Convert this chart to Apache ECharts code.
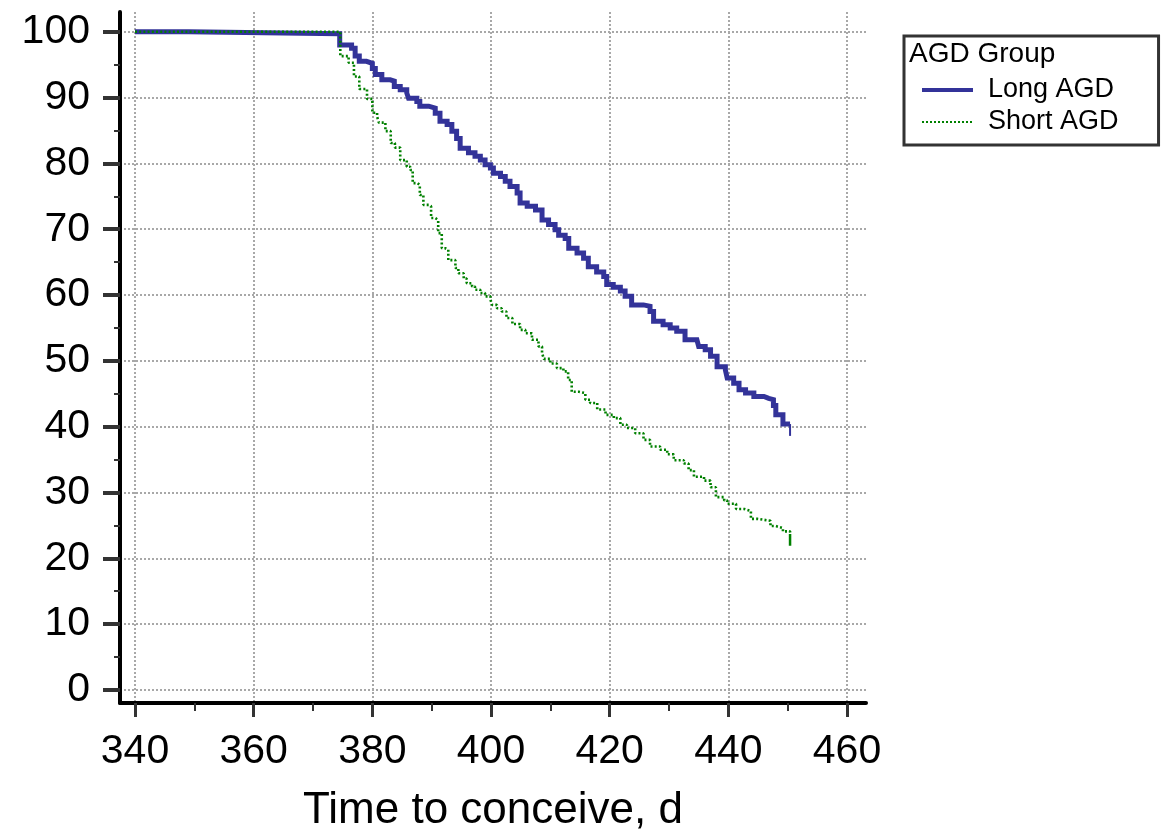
<!DOCTYPE html>
<html><head><meta charset="utf-8">
<script src="https://cdn.jsdelivr.net/npm/echarts@6/dist/echarts.min.js"></script>
<style>html,body{margin:0;padding:0;background:#fff}#c{width:1163px;height:840px}</style>
</head><body><div id="c"></div>
<script>
// ---- data ----
const longTime = [340,349,374.5,376.5,377.1,377.8,379,380,380.5,381.6,383,383.7,384.7,385.8,386.1,387.5,388,389.5,390.6,391.4,392.6,393.4,394.2,394.8,396.2,397.3,398.2,399,399.9,400.4,401.6,402.4,403.2,404.4,404.9,406.1,407.5,408.6,409.7,410.8,411.4,412.5,413.1,414.5,415.6,416.4,417.8,419,419.5,420.6,421.8,422.6,423.7,425.7,426.8,427.4,429,430.2,431.3,432.7,434.7,435,436.1,437,438.1,439.5,439.8,440.9,441.8,442.9,444.3,446,446.8,447.6,448.0,449.2,450.4];
const longSurv = [100,99.7,98,97.5,96.3,95.5,95.2,94.4,93.5,92.7,92.5,91.7,91.2,90.7,89.9,89.4,88.7,88.4,87.6,86.4,85.9,84.9,83.8,82.3,81.6,81.1,80.5,79.8,79.3,78.5,78.0,77.3,76.5,75.5,74.0,73.5,72.9,71.4,70.7,69.9,69.1,68.6,67.1,66.4,65.6,64.3,63.5,62.8,61.6,61.2,60.6,59.8,58.5,58.3,57.5,56.0,55.5,55.0,54.5,53.2,52.9,52.2,51.7,50.7,49.1,48.6,47.4,46.6,45.6,45.1,44.6,44.3,44.1,43.2,41.8,40.4,40.4];
const shortTime = [340,374.6,376,376.9,377.8,379.1,380,380.8,381.1,382.2,383.1,383.8,384.7,385.8,386.4,386.8,387.6,388,388.6,389.5,389.9,390.6,391.1,391.7,392.3,392.8,394,394.5,395.4,395.9,396.8,397.3,398.2,399,399.9,400.2,401,401.8,402.6,403.6,404.9,405.8,406.9,408,408.6,408.9,410,411.1,412.2,413,413.6,414.8,415.9,416.7,417.9,419.3,420.7,421.8,422.9,424.3,425.7,426.8,428.5,429.7,430.8,432.5,433.3,434.2,435.9,437,437.9,439.3,439.8,441.3,442.7,443.8,444.9,447.1,448,449.2,450.4];
const shortSurv = [100,96.3,95.3,93.2,91.3,89.8,87.7,87.1,86.2,84.9,83.1,82.4,80.5,79.5,79.0,77.0,76.7,75.2,73.7,73.5,71.7,71.4,69.4,67.1,66.9,65.3,64.1,63.3,62.5,61.8,61.3,60.8,60.3,59.8,59.3,58.5,58.0,57.5,56.5,55.6,54.7,54.2,53.2,52.2,51.2,50.3,49.6,48.9,48.4,47.1,45.3,45.1,44.1,43.6,42.6,41.8,41.3,40.3,39.8,39.0,38.0,37.0,36.5,35.8,34.9,34.4,33.4,32.4,31.8,30.8,29.3,28.8,28.3,27.5,27.2,26.0,25.7,24.9,24.6,24.1,23.7];
// final drop drawn at the last follow-up time
const longEndTime = [450.4, 450.4];
const longEndSurv = [40.4, 38.6];
const shortEndTime = [450.4, 450.4];
const shortEndSurv = [23.7, 21.9];

const seriesNames = ['Long AGD', 'Short AGD'];
const legendTitle = 'AGD Group';
const xTitle = 'Time to conceive, d';
const xMajorTicks = [340,360,380,400,420,440,460];
const xMinorTicks = [350,370,390,410,430,450];
const yMajorTicks = [0,10,20,30,40,50,60,70,80,90,100];
const yMinorTicks = [5,15,25,35,45,55,65,75,85,95];

// ---- chart ----
const zip = (a, b) => a.map((v, i) => [v, b[i]]);
const FONT = '"Liberation Sans", Arial, sans-serif';
const X_MIN = 337.47, X_MAX = 463.2, Y_MIN = -1.98, Y_MAX = 103.0;
const LONG_COLOR = '#333399', SHORT_COLOR = '#008000';
const gridLine = { show: true, lineStyle: { color: '#a8a8a8', width: 2, type: [2, 2] } };

const chart = echarts.init(document.getElementById('c'), null, { renderer: 'canvas' });
chart.setOption({
  animation: false,
  backgroundColor: '#ffffff',
  title: {
    text: legendTitle, left: 909, top: 40, padding: 0,
    textStyle: { fontFamily: FONT, fontSize: 28, fontWeight: 'normal', color: '#000' }
  },
  legend: {
    data: [
      { name: seriesNames[0], lineStyle: { color: LONG_COLOR, width: 4, type: 'solid' } },
      { name: seriesNames[1], lineStyle: { color: SHORT_COLOR, width: 2, type: [2, 2] } }
    ],
    orient: 'vertical', left: 904, top: 36,
    padding: [40, 40, 9, 16],
    itemWidth: 51, itemHeight: 14, itemGap: 4,
    itemStyle: { opacity: 0, borderWidth: 0 },
    borderColor: '#333', borderWidth: 3, borderRadius: 0,
    textStyle: { fontFamily: FONT, fontSize: 27, color: '#000', lineHeight: 28, padding: [0, 0, 0, 10] }
  },
  grid: { left: 120, right: 297, top: 12, bottom: 137, containLabel: false },
  xAxis: [{
    type: 'value', min: X_MIN, max: X_MAX, position: 'bottom',
    axisLine: { show: true, onZero: false, lineStyle: { color: '#000', width: 4 } },
    axisTick: { show: true, customValues: xMajorTicks, length: 14, lineStyle: { color: '#333', width: 3 } },
    axisLabel: { customValues: xMajorTicks, margin: 28, fontFamily: FONT, fontSize: 41, color: '#000' },
    splitLine: gridLine,
    name: xTitle, nameLocation: 'middle', nameGap: 86,
    nameTextStyle: { fontFamily: FONT, fontSize: 44, color: '#000' }
  }, {
    type: 'value', min: X_MIN, max: X_MAX, position: 'bottom',
    axisLine: { show: false, onZero: false },
    axisTick: { show: true, customValues: xMinorTicks, length: 8, lineStyle: { color: '#333', width: 2 } },
    axisLabel: { show: false },
    splitLine: { show: false }
  }],
  yAxis: [{
    type: 'value', min: Y_MIN, max: Y_MAX, position: 'left',
    axisLine: { show: true, onZero: false, lineStyle: { color: '#000', width: 4 } },
    axisTick: { show: true, customValues: yMajorTicks, length: 17, lineStyle: { color: '#333', width: 4 } },
    axisLabel: { customValues: yMajorTicks, margin: 30, fontFamily: FONT, fontSize: 41, color: '#000' },
    splitLine: gridLine
  }, {
    type: 'value', min: Y_MIN, max: Y_MAX, position: 'left',
    axisLine: { show: false, onZero: false },
    axisTick: { show: true, customValues: yMinorTicks, length: 6, lineStyle: { color: '#333', width: 2 } },
    axisLabel: { show: false },
    splitLine: { show: false }
  }],
  series: [{
    name: seriesNames[0], type: 'line', step: 'end', data: zip(longTime, longSurv),
    symbol: 'none', showSymbol: false, z: 3,
    lineStyle: { color: LONG_COLOR, width: 5, join: 'miter', cap: 'butt' },
    itemStyle: { color: LONG_COLOR }
  }, {
    name: seriesNames[1], type: 'line', step: 'end', data: zip(shortTime, shortSurv),
    symbol: 'none', showSymbol: false, z: 4,
    lineStyle: { color: SHORT_COLOR, width: 2.6, type: [2, 2.2] },
    itemStyle: { color: SHORT_COLOR }
  }, {
    name: 'longEnd', type: 'line', data: zip(longEndTime, longEndSurv),
    symbol: 'none', showSymbol: false, z: 3, silent: true,
    lineStyle: { color: LONG_COLOR, width: 2 }
  }, {
    name: 'shortEnd', type: 'line', data: zip(shortEndTime, shortEndSurv),
    symbol: 'none', showSymbol: false, z: 4, silent: true,
    lineStyle: { color: SHORT_COLOR, width: 2.5 }
  }]
});
</script></body></html>
